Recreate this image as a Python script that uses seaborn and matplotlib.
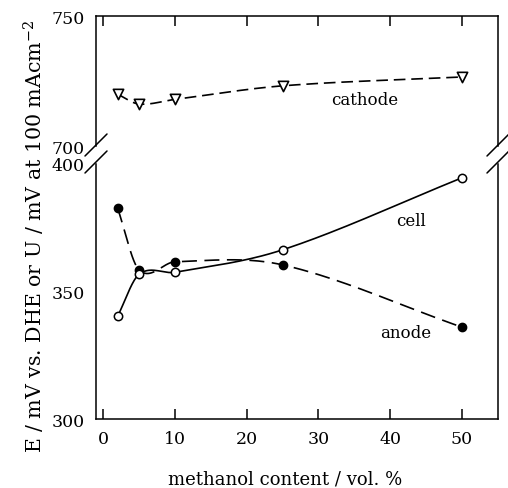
import numpy as np
import pandas as pd
import matplotlib
matplotlib.use("Agg")
import matplotlib.pyplot as plt
from matplotlib.lines import Line2D
import seaborn as sns

# ---- data ----
methanol = [2, 5, 10, 25, 50]
cathode = [720.0, 716.2, 718.0, 723.2, 726.6]
anode = [382.7, 358.4, 361.6, 360.4, 336.0]
cell = [340.2, 356.7, 357.5, 366.3, 394.5]

x_ticks = [0, 10, 20, 30, 40, 50]
top_ticks = [700, 750]
bot_ticks = [300, 350, 400]

sns.set_theme(style="white")
plt.rcParams['font.family'] = ['DejaVu Serif']
plt.rcParams['mathtext.fontset'] = 'dejavuserif'
plt.rcParams['text.color'] = 'black'
plt.rcParams['xtick.color'] = 'black'
plt.rcParams['ytick.color'] = 'black'
plt.rcParams['xtick.labelcolor'] = 'black'
plt.rcParams['ytick.labelcolor'] = 'black'


def smooth(x, y, n=40):
    """Cubic Hermite (Catmull-Rom style) curve through the data points."""
    x = np.asarray(x, float)
    y = np.asarray(y, float)
    m = np.zeros_like(y)
    m[0] = (y[1] - y[0]) / (x[1] - x[0])
    m[-1] = (y[-1] - y[-2]) / (x[-1] - x[-2])
    for i in range(1, len(x) - 1):
        m[i] = (y[i + 1] - y[i - 1]) / (x[i + 1] - x[i - 1])
    xs, ys = [], []
    for i in range(len(x) - 1):
        h = x[i + 1] - x[i]
        t = np.linspace(0, 1, n, endpoint=(i == len(x) - 2))
        h00 = 2 * t**3 - 3 * t**2 + 1
        h10 = t**3 - 2 * t**2 + t
        h01 = -2 * t**3 + 3 * t**2
        h11 = t**3 - t**2
        xs.append(x[i] + t * h)
        ys.append(h00 * y[i] + h10 * h * m[i] + h01 * y[i + 1] + h11 * h * m[i + 1])
    return np.concatenate(xs), np.concatenate(ys)


fig = plt.figure(figsize=(5.08, 4.89), dpi=100)
ax_top = fig.add_axes([0.189, 0.699, 0.791, 0.266])
ax_bot = fig.add_axes([0.189, 0.141, 0.791, 0.522])

lw = 1.2
for ax in (ax_top, ax_bot):
    ax.set_facecolor('white')
    for s in ax.spines.values():
        s.set_color('black')
        s.set_linewidth(1.1)
    ax.set_xlim(-1, 55)
    ax.set_xticks(x_ticks)
    ax.grid(False)

# top panel (cathode)
xs, ys = smooth(methanol, cathode)
sns.lineplot(x=xs, y=ys, ax=ax_top, color='black', lw=lw, estimator=None,
             sort=False, linestyle=(0, (7, 3.5)))
sns.scatterplot(x=methanol, y=cathode, ax=ax_top, marker='v', s=55,
                facecolor='white', edgecolor='black', linewidth=1.2, zorder=5)
ax_top.set_ylim(700, 750)
ax_top.set_yticks(top_ticks)
ax_top.spines['bottom'].set_visible(False)
ax_top.tick_params(axis='x', which='both', bottom=False, top=True, labelbottom=False,
                   direction='in', length=7, width=1.1, color='black')
ax_top.tick_params(axis='y', length=0, labelsize=12.5, pad=8, colors='black')
ax_top.text(36.5, 718.0, 'cathode', ha='center', va='center', fontsize=12, color='black')

# bottom panel (anode, cell)
xs, ys = smooth(methanol, anode)
sns.lineplot(x=xs, y=ys, ax=ax_bot, color='black', lw=lw, estimator=None,
             sort=False, linestyle=(0, (9, 4.5)))
xs, ys = smooth(methanol, cell)
sns.lineplot(x=xs, y=ys, ax=ax_bot, color='black', lw=lw, estimator=None, sort=False)
sns.scatterplot(x=methanol, y=anode, ax=ax_bot, marker='o', s=36,
                color='black', edgecolor='black', linewidth=1.0, zorder=5)
sns.scatterplot(x=methanol, y=cell, ax=ax_bot, marker='o', s=36,
                facecolor='white', edgecolor='black', linewidth=1.1, zorder=6)
ax_bot.set_ylim(300, 400)
ax_bot.set_yticks(bot_ticks)
ax_bot.set_yticks([350], minor=True)
ax_bot.spines['top'].set_visible(False)
ax_bot.tick_params(axis='x', which='both', bottom=True, top=False, direction='in',
                   length=7, width=1.1, labelsize=12.5, pad=8, colors='black')
ax_bot.tick_params(axis='y', which='major', length=0, labelsize=12.5, pad=8, colors='black')
ax_bot.tick_params(axis='y', which='minor', left=True, right=True, direction='in',
                   length=7, width=1.1, color='black')
ax_bot.text(42.9, 377.6, 'cell', ha='center', va='center', fontsize=12, color='black')
ax_bot.text(42.2, 334.0, 'anode', ha='center', va='center', fontsize=12, color='black')

# axis labels
fig.text(0.561, 0.019, 'methanol content / vol. %', ha='center', va='center',
         fontsize=13, color='black')
fig.text(0.067, 0.517, r'E / mV vs. DHE or U / mV at 100 mAcm$^{-2}$', rotation=90,
         ha='center', va='center', fontsize=14.8, color='black')

# break marks
W, H = 508.0, 489.0
def slash(x0, y0, x1, y1):
    fig.add_artist(Line2D([x0 / W, x1 / W], [1 - y0 / H, 1 - y1 / H],
                          transform=fig.transFigure, color='black', lw=1.1, clip_on=False))
for cx in (96, 498):
    slash(cx - 11, 157, cx + 11, 135)
    slash(cx - 11, 174, cx + 11, 152)

fig.savefig('out.png', dpi=100, facecolor='white')
